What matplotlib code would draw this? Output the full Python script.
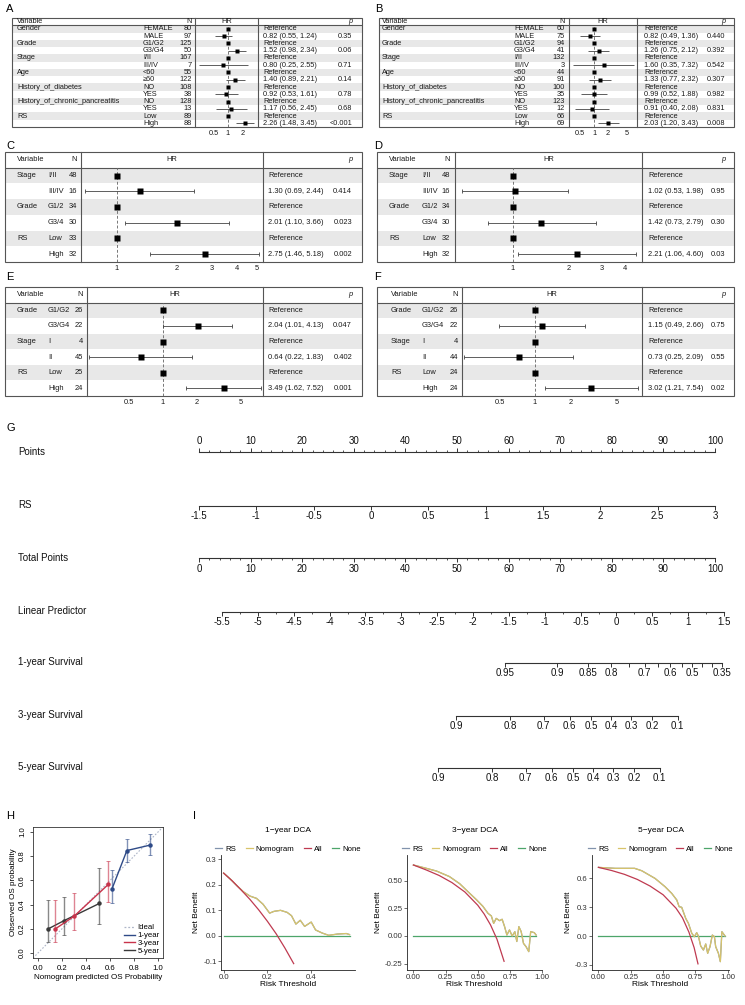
import numpy as np
import matplotlib
matplotlib.use("Agg")
import matplotlib.pyplot as plt
from matplotlib.patches import Rectangle
from matplotlib.lines import Line2D
from matplotlib.ticker import NullLocator
import logging
logging.getLogger('matplotlib.font_manager').setLevel(logging.ERROR)

plt.rcParams['font.family'] = ['Liberation Sans', 'DejaVu Sans']
plt.rcParams['axes.unicode_minus'] = False

# ===================== DATA =====================
# ---- A / B : multivariate Cox, all clinical variables ----
AB_vars = ["Gender", "Grade", "Stage", "Age", "History_of_diabetes",
           "History_of_chronic_pancreatitis", "RS"]
AB_levels = ["FEMALE", "MALE", "G1/G2", "G3/G4", "I/II", "III/IV", "<60", "≥60",
             "NO", "YES", "NO", "YES", "Low", "High"]
A_n = [80, 97, 125, 50, 167, 7, 55, 122, 108, 38, 128, 13, 89, 88]
A_hr = [0.82, 1.52, 0.80, 1.40, 0.92, 1.17, 2.26]
A_lo = [0.55, 0.98, 0.25, 0.89, 0.53, 0.56, 1.48]
A_hi = [1.24, 2.34, 2.55, 2.21, 1.61, 2.45, 3.45]
A_p = ["0.35", "0.06", "0.71", "0.14", "0.78", "0.68", "<0.001"]
A_ticks = [0.5, 1, 2]

B_n = [60, 75, 94, 41, 132, 3, 44, 91, 100, 35, 123, 12, 66, 69]
B_hr = [0.82, 1.26, 1.60, 1.33, 0.99, 0.91, 2.03]
B_lo = [0.49, 0.75, 0.35, 0.77, 0.52, 0.40, 1.20]
B_hi = [1.36, 2.12, 7.32, 2.32, 1.88, 2.08, 3.43]
B_p = ["0.440", "0.392", "0.542", "0.307", "0.982", "0.831", "0.008"]
B_ticks = [0.5, 1, 2, 5]

# ---- C / D ----
CD_vars = ["Stage", "Grade", "RS"]
CD_levels = ["I/II", "III/IV", "G1/2", "G3/4", "Low", "High"]
C_n = [48, 16, 34, 30, 33, 32]
C_hr = [1.30, 2.01, 2.75]
C_lo = [0.69, 1.10, 1.46]
C_hi = [2.44, 3.66, 5.18]
C_p = ["0.414", "0.023", "0.002"]
C_ticks = [1, 2, 3, 4, 5]

D_n = [48, 16, 34, 30, 32, 32]
D_hr = [1.02, 1.42, 2.21]
D_lo = [0.53, 0.73, 1.06]
D_hi = [1.98, 2.79, 4.60]
D_p = ["0.95", "0.30", "0.03"]
D_ticks = [1, 2, 3, 4]

# ---- E / F ----
EF_vars = ["Grade", "Stage", "RS"]
EF_levels = ["G1/G2", "G3/G4", "I", "II", "Low", "High"]
E_n = [26, 22, 4, 45, 25, 24]
E_hr = [2.04, 0.64, 3.49]
E_lo = [1.01, 0.22, 1.62]
E_hi = [4.13, 1.83, 7.52]
E_p = ["0.047", "0.402", "0.001"]
E_ticks = [0.5, 1, 2, 5]

F_n = [26, 22, 4, 44, 24, 24]
F_hr = [1.15, 0.73, 3.02]
F_lo = [0.49, 0.25, 1.21]
F_hi = [2.66, 2.09, 7.54]
F_p = ["0.75", "0.55", "0.02"]
F_ticks = [0.5, 1, 2, 5]

# ---- G : nomogram ----
nomo_labels = ["Points", "RS", "Total Points", "Linear Predictor",
               "1-year Survival", "3-year Survival", "5-year Survival"]
points_ticks = [0, 10, 20, 30, 40, 50, 60, 70, 80, 90, 100]
rs_ticks = [-1.5, -1, -0.5, 0, 0.5, 1, 1.5, 2, 2.5, 3]
total_ticks = [0, 10, 20, 30, 40, 50, 60, 70, 80, 90, 100]
lp_ticks = [-5.5, -5, -4.5, -4, -3.5, -3, -2.5, -2, -1.5, -1, -0.5, 0, 0.5, 1, 1.5]
surv1_ticks = [0.95, 0.9, 0.85, 0.8, 0.75, 0.7, 0.65, 0.6, 0.55, 0.5, 0.45, 0.4, 0.35]
surv1_labels = ["0.95", "0.9", "0.85", "0.8", "", "0.7", "", "0.6", "", "0.5", "", "", "0.35"]
surv3_ticks = [0.9, 0.8, 0.7, 0.6, 0.5, 0.4, 0.3, 0.2, 0.1]
surv5_ticks = [0.9, 0.8, 0.7, 0.6, 0.5, 0.4, 0.3, 0.2, 0.1]
# baseline shift of log(-log S) for each horizon (model parameter)
surv_shift = {"1": 1.423, "3": 0.018, "5": -0.233}

# ---- H : calibration ----
cal1_x = [0.616, 0.74, 0.93]
cal1_y = [0.529, 0.846, 0.89]
cal1_lo = [0.413, 0.749, 0.807]
cal1_hi = [0.683, 0.945, 0.983]
cal3_x = [0.142, 0.30, 0.586]
cal3_y = [0.198, 0.303, 0.567]
cal3_lo = [0.088, 0.193, 0.419]
cal3_hi = [0.44, 0.496, 0.763]
cal5_x = [0.082, 0.216, 0.512]
cal5_y = [0.198, 0.267, 0.41]
cal5_lo = [0.088, 0.146, 0.24]
cal5_hi = [0.44, 0.463, 0.70]

# ---- I : decision curves ----
dca1_all_t = [0.00, 0.04, 0.08, 0.12, 0.16, 0.20, 0.24, 0.28, 0.32]
dca1_all_nb = [0.245, 0.214, 0.179, 0.142, 0.101, 0.056, 0.007, -0.049, -0.110]
dca1_nomo_t = [0.00, 0.03, 0.06, 0.09, 0.12, 0.15, 0.18, 0.21, 0.23, 0.26, 0.29, 0.31,
               0.33, 0.35, 0.37, 0.40, 0.42, 0.45, 0.48, 0.52, 0.56, 0.575]
dca1_nomo_nb = [0.245, 0.222, 0.196, 0.172, 0.155, 0.146, 0.123, 0.088, 0.095, 0.099,
                0.091, 0.078, 0.045, 0.060, 0.036, 0.053, 0.022, 0.010, 0.001, 0.006,
                0.008, 0.004]
dca1_none_t = [0.0, 0.575]

dca3_all_t = [0.00, 0.10, 0.20, 0.30, 0.40, 0.50, 0.55, 0.60, 0.65, 0.705]
dca3_all_nb = [0.645, 0.60, 0.55, 0.485, 0.40, 0.28, 0.20, 0.10, -0.03, -0.23]
dca3_nomo_t = [0.00, 0.10, 0.18, 0.28, 0.36, 0.44, 0.49, 0.54, 0.58, 0.606, 0.624, 0.644,
               0.67, 0.69, 0.709, 0.727, 0.747, 0.768, 0.789, 0.804, 0.82, 0.838, 0.856,
               0.876, 0.897, 0.912, 0.94, 0.954]
dca3_nomo_nb = [0.645, 0.615, 0.59, 0.54, 0.475, 0.385, 0.33, 0.27, 0.206, 0.182, 0.115,
                0.16, 0.139, 0.152, 0.085, 0.009, 0.055, 0.0, 0.039, -0.05, 0.085, 0.04,
                -0.067, -0.097, -0.142, 0.04, 0.03, 0.009]
dca3_none_t = [0.0, 0.955]

dca5_all_t = [0.00, 0.10, 0.20, 0.30, 0.40, 0.50, 0.60, 0.65, 0.70, 0.74, 0.77]
dca5_all_nb = [0.715, 0.683, 0.643, 0.59, 0.52, 0.43, 0.29, 0.19, 0.04, -0.12, -0.29]
dca5_nomo_t = [0.00, 0.13, 0.28, 0.335, 0.438, 0.515, 0.567, 0.606, 0.624, 0.644, 0.675,
               0.696, 0.722, 0.742, 0.76, 0.773, 0.791, 0.812, 0.83, 0.845, 0.863, 0.881,
               0.897, 0.907, 0.928, 0.943, 0.955, 0.979]
dca5_nomo_nb = [0.715, 0.705, 0.705, 0.68, 0.60, 0.514, 0.444, 0.375, 0.306, 0.299, 0.184,
                0.132, 0.028, -0.007, 0.035, 0.0, -0.104, -0.146, -0.083, -0.18, -0.111,
                0.01, -0.007, -0.111, -0.18, -0.267, 0.045, 0.0]
dca5_none_t = [0.0, 0.98]

# ===================== FIGURE =====================
W, H = 745, 1005
fig = plt.figure(figsize=(W / 100, H / 100), dpi=100)


def add_ax(x0, y0, x1, y1):
    return fig.add_axes([x0 / W, 1 - y1 / H, (x1 - x0) / W, (y1 - y0) / H])


def plabel(x, y, s):
    fig.text(x / W, 1 - y / H, s, fontsize=8, ha='left', va='center')


EDGE = '#555555'
TXT = '#1a1a1a'


def forest(vars_, levels, n, hr, lo, hi, p, ticks, L, fs=5.4, ms=3.3, cap=0.0):
    x0, x1, y0, y1 = L['box']
    nrow = 1 + len(levels)
    ax = add_ax(x0, y0, x1, y1)
    ax.set_xlim(x0, x1)
    ax.set_ylim(nrow, 0)
    ax.axis('off')
    for g in range(len(vars_)):
        ax.axhspan(1 + 2 * g, 2 + 2 * g, color='#E8E8E8', lw=0, zorder=0)
    ax.add_patch(Rectangle((x0, 0), x1 - x0, nrow, fill=False, lw=0.8, ec=EDGE,
                           clip_on=False, zorder=3))
    for xv in (L['v1'], L['v2']):
        ax.plot([xv, xv], [0, nrow], color=EDGE, lw=0.8, clip_on=False, zorder=3)
    ax.plot([x0, x1], [1, 1], color=EDGE, lw=0.8, zorder=3)
    kw = dict(fontsize=fs, va='center', color=TXT)
    ax.text(L['var'], 0.5, 'Variable', ha='left', **kw)
    ax.text(L['n'], 0.5, 'N', ha='right', **kw)
    ax.text((L['v1'] + L['v2']) / 2, 0.5, 'HR', ha='center', **kw)
    ax.text(L['p'], 0.5, 'p', ha='right', style='italic', **kw)
    for i, (lev, nn) in enumerate(zip(levels, n)):
        y = 1.5 + i
        g = i // 2
        if i % 2 == 0:
            ax.text(L['var'], y, vars_[g], ha='left', **kw)
            ax.text(L['ref'], y, 'Reference', ha='left', **kw)
        else:
            ax.text(L['ref'], y, f"{hr[g]:.2f} ({lo[g]:.2f}, {hi[g]:.2f})", ha='left', **kw)
            ax.text(L['p'], y, p[g], ha='right', **kw)
        ax.text(L['lev'], y, lev, ha='left', **kw)
        ax.text(L['n'], y, str(nn), ha='right', **kw)

    hax = add_ax(L['v1'], y0, L['v2'], y1)
    hax.set_xscale('log')
    hax.set_xlim(*L['lim'])
    hax.set_ylim(nrow, 0)
    hax.patch.set_visible(False)
    for s in hax.spines.values():
        s.set_visible(False)
    hax.set_yticks([])
    hax.set_xticks(ticks, labels=[f"{t:g}" for t in ticks])
    hax.xaxis.set_minor_locator(NullLocator())
    hax.tick_params(axis='x', length=0, pad=2.2, labelsize=fs, labelcolor=TXT)
    hax.axvline(1, 0, (nrow - 1) / nrow, color='#777777', lw=0.7, ls=(0, (3, 2)))
    ref_rows = [1.5 + 2 * g for g in range(len(vars_))]
    hr_rows = [2.5 + 2 * g for g in range(len(vars_))]
    hra, loa, hia = np.array(hr), np.array(lo), np.array(hi)
    hax.errorbar(hra, hr_rows, xerr=[hra - loa, hia - hra], fmt='none', ecolor='#444444',
                 elinewidth=0.6, capsize=cap, capthick=0.6)
    hax.plot([1] * len(ref_rows), ref_rows, 's', color='k', ms=ms, mec='none')
    hax.plot(hra, hr_rows, 's', color='k', ms=ms, mec='none')


LA = dict(box=(12, 362, 18, 127), var=17, lev=143, n=192, v1=195, v2=258, ref=263, p=352,
          lim=(0.207, 4.2))
LB = dict(box=(379, 734, 18, 127), var=382, lev=514, n=565, v1=569, v2=637, ref=644, p=725,
          lim=(0.29, 8.4))
LC = dict(box=(5, 362, 152, 262), var=17, lev=48, n=77, v1=81, v2=263, ref=268, p=352,
          lim=(0.66, 5.4))
LD = dict(box=(377, 734, 152, 262), var=389, lev=422, n=450, v1=455, v2=642, ref=648, p=725,
          lim=(0.488, 4.94))
LE = dict(box=(5, 362, 287, 396), var=17, lev=48, n=83, v1=87, v2=263, ref=268, p=352,
          lim=(0.209, 7.86))
LF = dict(box=(377, 734, 287, 396), var=391, lev=422, n=458, v1=462, v2=642, ref=648, p=725,
          lim=(0.239, 8.15))

forest(AB_vars, AB_levels, A_n, A_hr, A_lo, A_hi, A_p, A_ticks, LA, fs=5.3, ms=3.2)
forest(AB_vars, AB_levels, B_n, B_hr, B_lo, B_hi, B_p, B_ticks, LB, fs=5.3, ms=3.2)
forest(CD_vars, CD_levels, C_n, C_hr, C_lo, C_hi, C_p, C_ticks, LC, ms=3.8, cap=1.2)
forest(CD_vars, CD_levels, D_n, D_hr, D_lo, D_hi, D_p, D_ticks, LD, ms=3.8, cap=1.2)
forest(EF_vars, EF_levels, E_n, E_hr, E_lo, E_hi, E_p, E_ticks, LE, ms=3.8, cap=1.2)
forest(EF_vars, EF_levels, F_n, F_hr, F_lo, F_hi, F_p, F_ticks, LF, ms=3.8, cap=1.2)

plabel(6, 9, 'A')
plabel(375, 9, 'B')
plabel(6, 146, 'C')
plabel(374, 146, 'D')
plabel(6, 277, 'E')
plabel(374, 277, 'F')

# ---------------- G : nomogram ----------------
NF = ['Liberation Sans Narrow', 'Liberation Sans', 'DejaVu Sans']
NFS = 7.0
NCOL = '#333333'


def nomo_axis(x0, x1, y, lim, major, labels, minor=None, top=False):
    ax = add_ax(x0, y - 0.5, x1, y + 0.5)
    ax.set_xlim(*lim)
    ax.set_ylim(0, 1)
    ax.patch.set_visible(False)
    for s in ['left', 'right']:
        ax.spines[s].set_visible(False)
    ax.set_yticks([])
    if top:
        ax.spines['bottom'].set_visible(False)
        sp = ax.spines['top']
        ax.xaxis.tick_top()
    else:
        ax.spines['top'].set_visible(False)
        sp = ax.spines['bottom']
    sp.set_linewidth(0.8)
    sp.set_color(NCOL)
    sp.set_bounds(min(major), max(major))
    ax.set_xticks(major)
    ax.set_xticklabels(labels, fontfamily=NF, fontsize=NFS, color='#111111')
    if minor is not None:
        ax.set_xticks(minor, minor=True)
    else:
        ax.xaxis.set_minor_locator(NullLocator())
    ax.tick_params(axis='x', which='major', length=2.6, width=0.7, color=NCOL, pad=1.6)
    ax.tick_params(axis='x', which='minor', length=1.3, width=0.6, color=NCOL)
    return ax


nomo_y = [452, 505, 558, 611, 662, 715, 767]
PX0, PX1 = 199, 715          # points scale extent
LX0, LX1 = 222, 724          # linear predictor extent

nomo_axis(PX0, PX1, nomo_y[0], (0, 100), points_ticks, [str(t) for t in points_ticks],
          minor=np.arange(0, 101, 2), top=True)
nomo_axis(PX0, PX1, nomo_y[1], (-1.5, 3), rs_ticks, [f"{t:g}" for t in rs_ticks])
nomo_axis(PX0, PX1, nomo_y[2], (0, 100), total_ticks, [str(t) for t in total_ticks],
          minor=np.arange(0, 101, 2))
nomo_axis(LX0, LX1, nomo_y[3], (-5.5, 1.5), lp_ticks, [f"{t:g}" for t in lp_ticks],
          minor=np.arange(-5.5, 1.51, 0.25))


def surv_lp(s, key):
    s = np.asarray(s, dtype=float)
    return np.log(-np.log(s)) + surv_shift[key]


nomo_axis(LX0, LX1, nomo_y[4], (-5.5, 1.5), list(surv_lp(surv1_ticks, "1")), surv1_labels)
nomo_axis(LX0, LX1, nomo_y[5], (-5.5, 1.5), list(surv_lp(surv3_ticks, "3")),
          [f"{t:g}" for t in surv3_ticks])
nomo_axis(LX0, LX1, nomo_y[6], (-5.5, 1.5), list(surv_lp(surv5_ticks, "5")),
          [f"{t:g}" for t in surv5_ticks])

for lab, yy in zip(nomo_labels, nomo_y):
    fig.text(18 / W, 1 - yy / H, lab, fontsize=NFS, family=NF, ha='left', va='center',
             color='#111111')
plabel(6, 428, 'G')

# ---------------- H : calibration ----------------
hx = add_ax(33, 827, 163, 958)
hx.set_xlim(-0.04, 1.04)
hx.set_ylim(-0.04, 1.04)
hx.axline((0, 0), (1, 1), color='#AEB6C8', lw=0.8, ls=(0, (1.5, 1.5)))
C1, C3, C5 = '#2E4A87', '#C8334B', '#3A3A3A'
for xs, ys, los, his, c in [(cal5_x, cal5_y, cal5_lo, cal5_hi, C5),
                            (cal3_x, cal3_y, cal3_lo, cal3_hi, C3),
                            (cal1_x, cal1_y, cal1_lo, cal1_hi, C1)]:
    ya = np.array(ys)
    hx.errorbar(xs, ys, yerr=[ya - np.array(los), np.array(his) - ya], fmt='none',
                ecolor=c, alpha=0.6, elinewidth=1.0, capsize=1.2, capthick=0.7)
    hx.plot(xs, ys, '-o', color=c, lw=1.0, ms=2.2)
ticks01 = [0.0, 0.2, 0.4, 0.6, 0.8, 1.0]
hx.set_xticks(ticks01, labels=[f"{t:.1f}" for t in ticks01])
hx.set_yticks(ticks01, labels=[f"{t:.1f}" for t in ticks01])
for lbl in hx.get_yticklabels():
    lbl.set_rotation(90)
    lbl.set_va('center')
hx.tick_params(length=2.5, width=0.6, labelsize=5.6, pad=2.5, color='#333333')
for s in hx.spines.values():
    s.set_linewidth(0.6)
    s.set_color('#333333')
hx.set_xlabel('Nomogram predicted OS Probability', fontsize=5.8, labelpad=1.5)
hx.set_ylabel('Observed OS probability', fontsize=5.8, labelpad=1.5)
handles = [Line2D([], [], color='#AEB6C8', lw=0.9, ls=(0, (1.5, 1.5))),
           Line2D([], [], color=C1, lw=1.0), Line2D([], [], color=C3, lw=1.0),
           Line2D([], [], color=C5, lw=1.0)]
hx.legend(handles, ['Ideal', '1-year', '3-year', '5-year'], loc='lower right',
          fontsize=5.6, frameon=False, handlelength=1.4, labelspacing=0.05,
          borderpad=0.2, handletextpad=0.3, borderaxespad=0.2)
plabel(6, 816, 'H')

# ---------------- I : DCA ----------------
CRS, CNOM, CALL, CNONE = '#8193AC', '#D8C46A', '#BF3A50', '#4DA56A'


def dca(box, title, xlim, ylim, xt, xtl, yt, ytl, all_t, all_nb, nomo_t, nomo_nb, none_t):
    ax = add_ax(*box)
    ax.set_xlim(*xlim)
    ax.set_ylim(*ylim)
    ax.plot(none_t, [0] * len(none_t), color=CNONE, lw=0.9)
    ax.plot(nomo_t, nomo_nb, color=CRS, lw=0.9)        # RS (underneath)
    ax.plot(nomo_t, nomo_nb, color=CNOM, lw=0.9)       # Nomogram
    ax.plot(all_t, all_nb, color=CALL, lw=0.9)
    ax.set_xticks(xt, labels=xtl)
    ax.set_yticks(yt, labels=ytl)
    for s in ['top', 'right']:
        ax.spines[s].set_visible(False)
    for s in ['left', 'bottom']:
        ax.spines[s].set_linewidth(0.6)
        ax.spines[s].set_color('#222222')
    ax.tick_params(length=2, width=0.5, labelsize=5.6, pad=1.2, color='#333333',
                   labelcolor='#333333')
    ax.set_xlabel('Risk Threshold', fontsize=6, labelpad=-0.5)
    ax.set_ylabel('Net Benefit', fontsize=6, labelpad=2)
    ax.text(0.5, 1.215, title, transform=ax.transAxes, ha='center', va='center', fontsize=6)
    hh = [Line2D([], [], color=c, lw=0.9) for c in (CRS, CNOM, CALL, CNONE)]
    ax.legend(hh, ['RS', 'Nomogram', 'All', 'None'], ncol=4, loc='lower center',
              bbox_to_anchor=(0.5, 1.0), fontsize=5.6, frameon=False, handlelength=0.9,
              handletextpad=0.4, columnspacing=1.2, borderpad=0.2, borderaxespad=0.1)
    return ax


dca((221, 855, 355, 970), '1−year DCA', (-0.012, 0.60), (-0.135, 0.316),
    [0.0, 0.2, 0.4], ['0.0', '0.2', '0.4'], [-0.1, 0.0, 0.1, 0.2, 0.3],
    ['-0.1', '0.0', '0.1', '0.2', '0.3'],
    dca1_all_t, dca1_all_nb, dca1_nomo_t, dca1_nomo_nb, dca1_none_t)
dca((407, 855, 542, 970), '3−year DCA', (-0.05, 0.998), (-0.309, 0.736),
    [0.0, 0.25, 0.5, 0.75, 1.0], ['0.00', '0.25', '0.50', '0.75', '1.00'],
    [-0.25, 0.0, 0.25, 0.5], ['-0.25', '0.00', '0.25', '0.50'],
    dca3_all_t, dca3_all_nb, dca3_nomo_t, dca3_nomo_nb, dca3_none_t)
dca((592, 855, 729, 970), '5−year DCA', (-0.05, 1.01), (-0.354, 0.844),
    [0.0, 0.25, 0.5, 0.75, 1.0], ['0.00', '0.25', '0.50', '0.75', '1.00'],
    [-0.3, 0.0, 0.3, 0.6], ['-0.3', '0.0', '0.3', '0.6'],
    dca5_all_t, dca5_all_nb, dca5_nomo_t, dca5_nomo_nb, dca5_none_t)
plabel(193, 816, 'I')

fig.savefig('out.png', dpi=100)
